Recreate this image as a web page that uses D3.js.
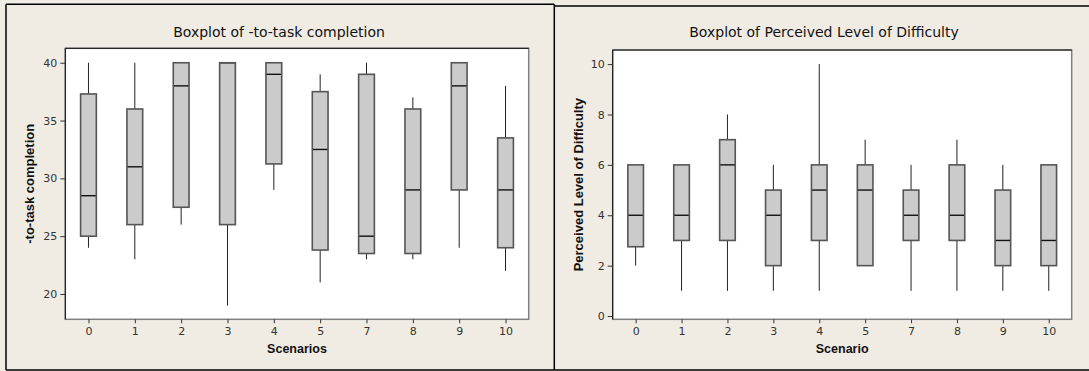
<!DOCTYPE html>
<html>
<head>
<meta charset="utf-8">
<script src="https://cdn.jsdelivr.net/npm/d3@7"></script>
<style>
  html, body { margin: 0; padding: 0; background: #f0ece4; }
  svg { display: block; }
</style>
</head>
<body>
<svg id="chart" width="1089" height="371"></svg>
<script>
// ---- data ----
const scenarios = ["0", "1", "2", "3", "4", "5", "7", "8", "9", "10"];

// Boxplot of -to-task completion
const taskLow  = [24, 23, 26, 19, 29, 21, 23, 23, 24, 22];
const taskQ1   = [25, 26, 27.5, 26, 31.25, 23.8, 23.5, 23.5, 29, 24];
const taskMed  = [28.5, 31, 38, 40, 39, 32.5, 25, 29, 38, 29];
const taskQ3   = [37.3, 36, 40, 40, 40, 37.5, 39, 36, 40, 33.5];
const taskHigh = [40, 40, 40, 40, 40, 39, 40, 37, 40, 38];
const taskTicks = [20, 25, 30, 35, 40];

// Boxplot of Perceived Level of Difficulty
const diffLow  = [2, 1, 1, 1, 1, 2, 1, 1, 1, 1];
const diffQ1   = [2.75, 3, 3, 2, 3, 2, 3, 3, 2, 2];
const diffMed  = [4, 4, 6, 4, 5, 5, 4, 4, 3, 3];
const diffQ3   = [6, 6, 7, 5, 6, 6, 5, 6, 5, 6];
const diffHigh = [6, 6, 8, 6, 10, 7, 6, 7, 6, 6];
const diffTicks = [0, 2, 4, 6, 8, 10];

// ---- drawing ----
const svg = d3.select("#chart");

// outer frame
const frame = svg.append("g").attr("fill", "none").attr("stroke", "#000").attr("stroke-width", 1.5);
frame.append("line").attr("x1", 6).attr("x2", 6).attr("y1", 4.3).attr("y2", 370);
frame.append("line").attr("x1", 6).attr("x2", 554.3).attr("y1", 4.3).attr("y2", 4.3);
frame.append("line").attr("x1", 554.3).attr("x2", 554.3).attr("y1", 4.3).attr("y2", 370);
frame.append("line").attr("x1", 554.3).attr("x2", 1089).attr("y1", 6).attr("y2", 6);
frame.append("line").attr("x1", 6).attr("x2", 1089).attr("y1", 370).attr("y2", 370);

function drawPanel(cfg) {
  const { left, right, top, bottom, domain, ticks, low, q1, med, q3, high,
          title, titleX, yLabel, yLabelX, xLabel } = cfg;
  const g = svg.append("g");

  const x = d3.scalePoint().domain(scenarios).range([left, right]).padding(0.5);
  const y = d3.scaleLinear().domain(domain).range([bottom, top]);

  // plot background
  g.append("rect").attr("x", left).attr("y", top)
    .attr("width", right - left).attr("height", bottom - top)
    .attr("fill", "#fff").attr("stroke", "#808080").attr("stroke-width", 1.5);
  g.append("path").attr("d", `M${left},${bottom}V${top}H${right}`)
    .attr("fill", "none").attr("stroke", "#111").attr("stroke-width", 1);

  // axes
  const yAxis = d3.axisLeft(y).tickValues(ticks).tickSize(5).tickPadding(3).tickSizeOuter(0);
  const ya = g.append("g").attr("transform", `translate(${left},0)`).call(yAxis);
  ya.select(".domain").remove();
  ya.selectAll("line").attr("stroke", "#333");
  ya.selectAll("text").attr("fill", "#333").style("font", "11px 'DejaVu Sans', sans-serif");

  const xAxis = d3.axisBottom(x).tickSize(4).tickPadding(4).tickSizeOuter(0);
  const xa = g.append("g").attr("transform", `translate(0,${bottom})`).call(xAxis);
  xa.select(".domain").remove();
  xa.selectAll("line").attr("stroke", "#333");
  xa.selectAll("text").attr("fill", "#333").style("font", "11px 'DejaVu Sans', sans-serif");

  const bw = x.step() * 0.34;
  const boxes = g.append("g").selectAll("g").data(scenarios).join("g");

  // whiskers
  boxes.append("line")
    .attr("x1", d => x(d)).attr("x2", d => x(d))
    .attr("y1", (d, i) => y(q3[i])).attr("y2", (d, i) => y(high[i]))
    .attr("stroke", "#222").attr("stroke-width", 1);
  boxes.append("line")
    .attr("x1", d => x(d)).attr("x2", d => x(d))
    .attr("y1", (d, i) => y(q1[i])).attr("y2", (d, i) => y(low[i]))
    .attr("stroke", "#222").attr("stroke-width", 1);
  // box fill
  boxes.append("rect")
    .attr("x", d => x(d) - bw / 2).attr("width", bw)
    .attr("y", (d, i) => y(q3[i])).attr("height", (d, i) => y(q1[i]) - y(q3[i]))
    .attr("fill", "#cbcbcb").attr("stroke", "none");
  // medians
  boxes.append("line")
    .attr("x1", d => x(d) - bw / 2).attr("x2", d => x(d) + bw / 2)
    .attr("y1", (d, i) => y(med[i])).attr("y2", (d, i) => y(med[i]))
    .attr("stroke", "#111").attr("stroke-width", 1.4);
  // box outline on top
  boxes.append("rect")
    .attr("x", d => x(d) - bw / 2).attr("width", bw)
    .attr("y", (d, i) => y(q3[i])).attr("height", (d, i) => y(q1[i]) - y(q3[i]))
    .attr("fill", "none").attr("stroke", "#555").attr("stroke-width", 1.6);

  // texts
  g.append("text").attr("x", titleX).attr("y", 36.5).attr("text-anchor", "middle")
    .attr("fill", "#111").style("font", "14px 'DejaVu Sans', Verdana, sans-serif")
    .text(title);
  g.append("text").attr("transform", `translate(${yLabelX},${(top + bottom) / 2}) rotate(-90)`)
    .attr("text-anchor", "middle").attr("fill", "#111")
    .style("font", "bold 13px 'Liberation Sans', Arial, sans-serif")
    .text(yLabel);
  g.append("text").attr("x", (left + right) / 2).attr("y", 352.5).attr("text-anchor", "middle")
    .attr("fill", "#111").style("font", "bold 12.5px 'Liberation Sans', Arial, sans-serif")
    .text(xLabel);
}

drawPanel({
  left: 65.3, right: 528.7, top: 48.3, bottom: 319.3, domain: [17.81, 41.25],
  ticks: taskTicks, low: taskLow, q1: taskQ1, med: taskMed, q3: taskQ3, high: taskHigh,
  title: "Boxplot of -to-task completion", titleX: 279,
  yLabel: "-to-task completion", yLabelX: 34, xLabel: "Scenarios"
});

drawPanel({
  left: 612.7, right: 1071.7, top: 50, bottom: 319.3, domain: [-0.13, 10.56],
  ticks: diffTicks, low: diffLow, q1: diffQ1, med: diffMed, q3: diffQ3, high: diffHigh,
  title: "Boxplot of Perceived Level of Difficulty", titleX: 824,
  yLabel: "Perceived Level of Difficulty", yLabelX: 583, xLabel: "Scenario"
});
</script>
</body>
</html>
